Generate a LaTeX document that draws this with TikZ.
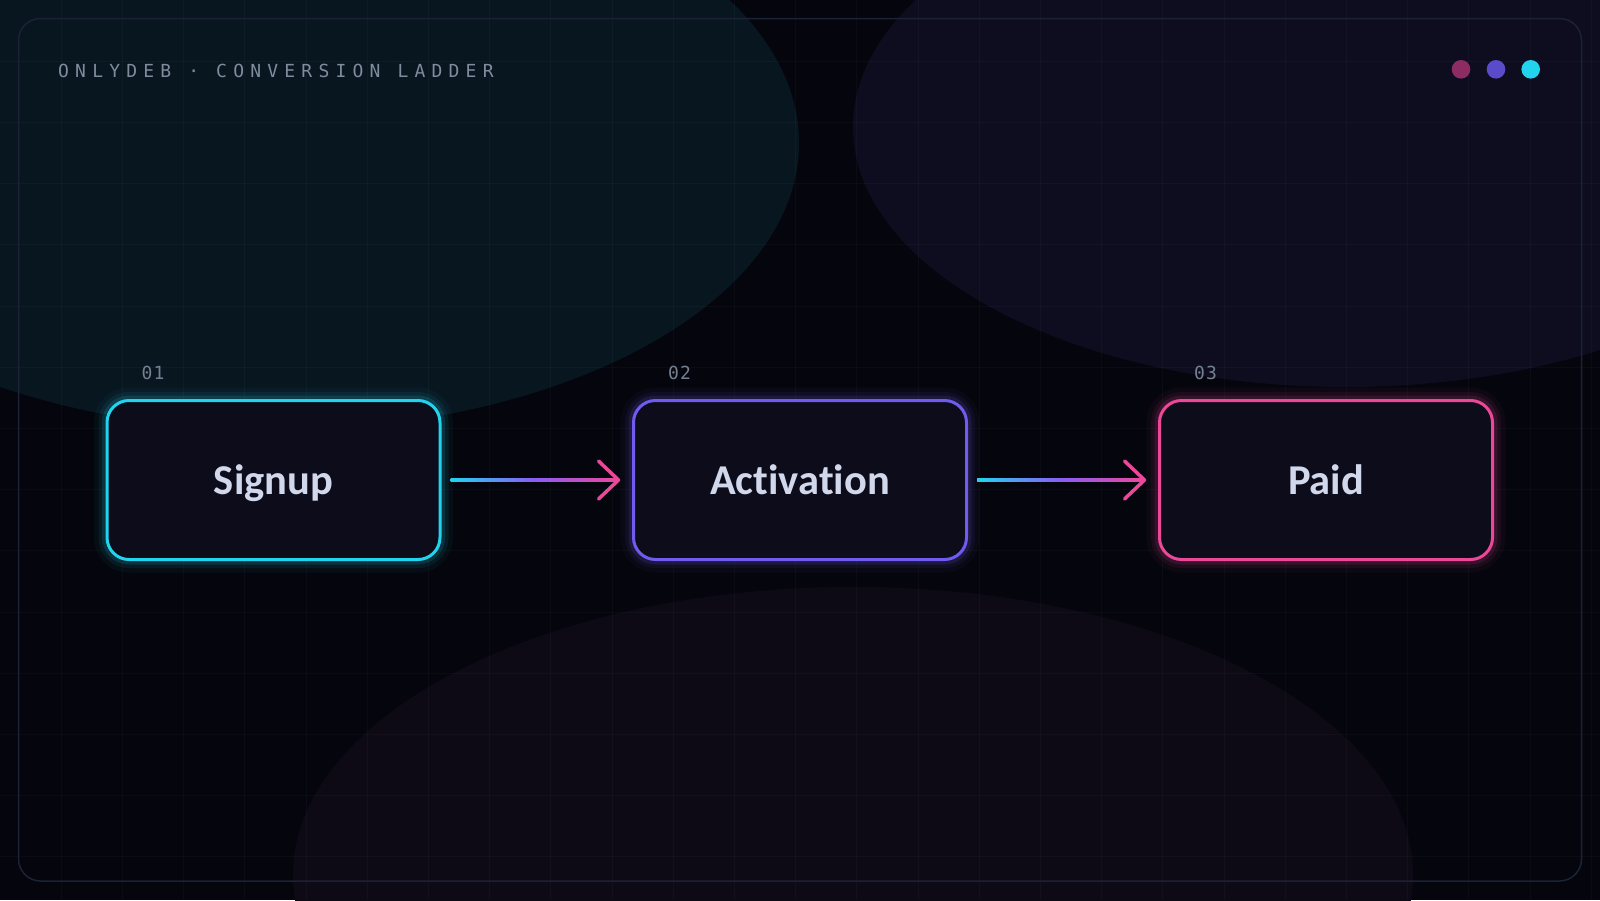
\documentclass[tikz,border=0pt]{standalone}
\usepackage{fontspec}
\setmainfont{Carlito}[Ligatures={NoCommon,NoDiscretionary,NoContextual}]
\newfontfamily\monof{DejaVu Sans Mono}
\usetikzlibrary{calc}
\definecolor{bgc}{HTML}{05060D}
\definecolor{blobA}{HTML}{081620}
\definecolor{blobB}{HTML}{0E0D20}
\definecolor{blobC}{HTML}{0E0A15}
\definecolor{framec}{HTML}{1C2236}
\definecolor{boxfill}{HTML}{0C0C1A}
\definecolor{cyanc}{HTML}{22D3EE}
\definecolor{purplec}{HTML}{6D5CEE}
\definecolor{midc}{HTML}{8B5CF6}
\definecolor{pinkc}{HTML}{EC4899}
\definecolor{dotpink}{HTML}{8C2C63}
\definecolor{dotpurple}{HTML}{5A4BCB}
\definecolor{textc}{HTML}{D2D8EC}
\definecolor{titlec}{HTML}{808B9E}
\definecolor{numc}{HTML}{768093}
\tikzset{
  gridline/.style={white, opacity=0.028, line width=1},
  stepbox/.style={rectangle, rounded corners=22, minimum width=333, minimum height=159,
    line width=3, fill=boxfill, text=textc, inner sep=0, text height=36, text depth=8,
    font=\bfseries\fontsize{42.5}{42.5}\selectfont,
    preaction={draw=#1, line width=26, draw opacity=0.04},
    preaction={draw=#1, line width=17, draw opacity=0.07},
    preaction={draw=#1, line width=10, draw opacity=0.13},
    draw=#1},
  numlbl/.style={anchor=base west, inner sep=0, text=numc,
    font=\monof\fontsize{18}{18}\selectfont\addfontfeature{LetterSpace=6}},
  headline/.style={draw=pinkc, line width=3.5, line cap=round, line join=round},
  dot/.style={circle, inner sep=0, minimum size=18.6, fill=#1}
}
\begin{document}
\begin{tikzpicture}[x=1pt,y=-1pt]
\useasboundingbox (0,0) rectangle (1600,900);
\fill[bgc] (0,0) rectangle (1600,900);
\begin{scope}
\clip (0,0) rectangle (1600,900);
\fill[blobA] (276,143) ellipse [x radius=523, y radius=287];
\fill[blobB] (1346,127) ellipse [x radius=493, y radius=260];
\fill[blobC] (853,875) ellipse [x radius=560, y radius=288];
\foreach \i in {1,...,26} \draw[gridline] ({\i*61.2},0) -- ({\i*61.2},900);
\foreach \j in {1,...,14} \draw[gridline] (0,{\j*61.2}) -- (1600,{\j*61.2});
\end{scope}
\draw[framec, line width=1.5, rounded corners=22] (18.5,18.5) rectangle (1581.5,881);

\node[anchor=base west, inner sep=0, text=titlec,
  font=\monof\fontsize{18}{18}\selectfont\addfontfeature{LetterSpace=34.5}] (title) at (58,77) {ONLYDEB · CONVERSION LADDER};

\node[dot=dotpink] (d1) at (1461,69.3) {};
\node[dot=dotpurple] (d2) at (1496,69.3) {};
\node[dot=cyanc] (d3) at (1530.7,69.3) {};

\node[stepbox=cyanc] (signup) at (273.5,480) {Signup};
\node[stepbox=purplec] (activation) at (800,480) {Activation};
\node[stepbox=pinkc] (paid) at (1326,480) {Paid};

\node[numlbl] (n1) at ($(signup.north west)+(36,-20)$) {01};
\node[numlbl] (n2) at ($(activation.north west)+(36,-20)$) {02};
\node[numlbl] (n3) at ($(paid.north west)+(36,-20)$) {03};

\shade[left color=cyanc, right color=pinkc, middle color=midc]
  ($(signup.east)+(9.2,-1.75)$) rectangle ($(activation.west)+(-13.5,1.75)$);
\draw[headline] ($(activation.west)+(-33.5,-19)$) -- ($(activation.west)+(-13.5,0)$) -- ($(activation.west)+(-33.5,19)$);

\shade[left color=cyanc, right color=pinkc, middle color=midc]
  ($(activation.east)+(9.2,-1.75)$) rectangle ($(paid.west)+(-13.5,1.75)$);
\draw[headline] ($(paid.west)+(-33.5,-19)$) -- ($(paid.west)+(-13.5,0)$) -- ($(paid.west)+(-33.5,19)$);
\end{tikzpicture}
\end{document}
